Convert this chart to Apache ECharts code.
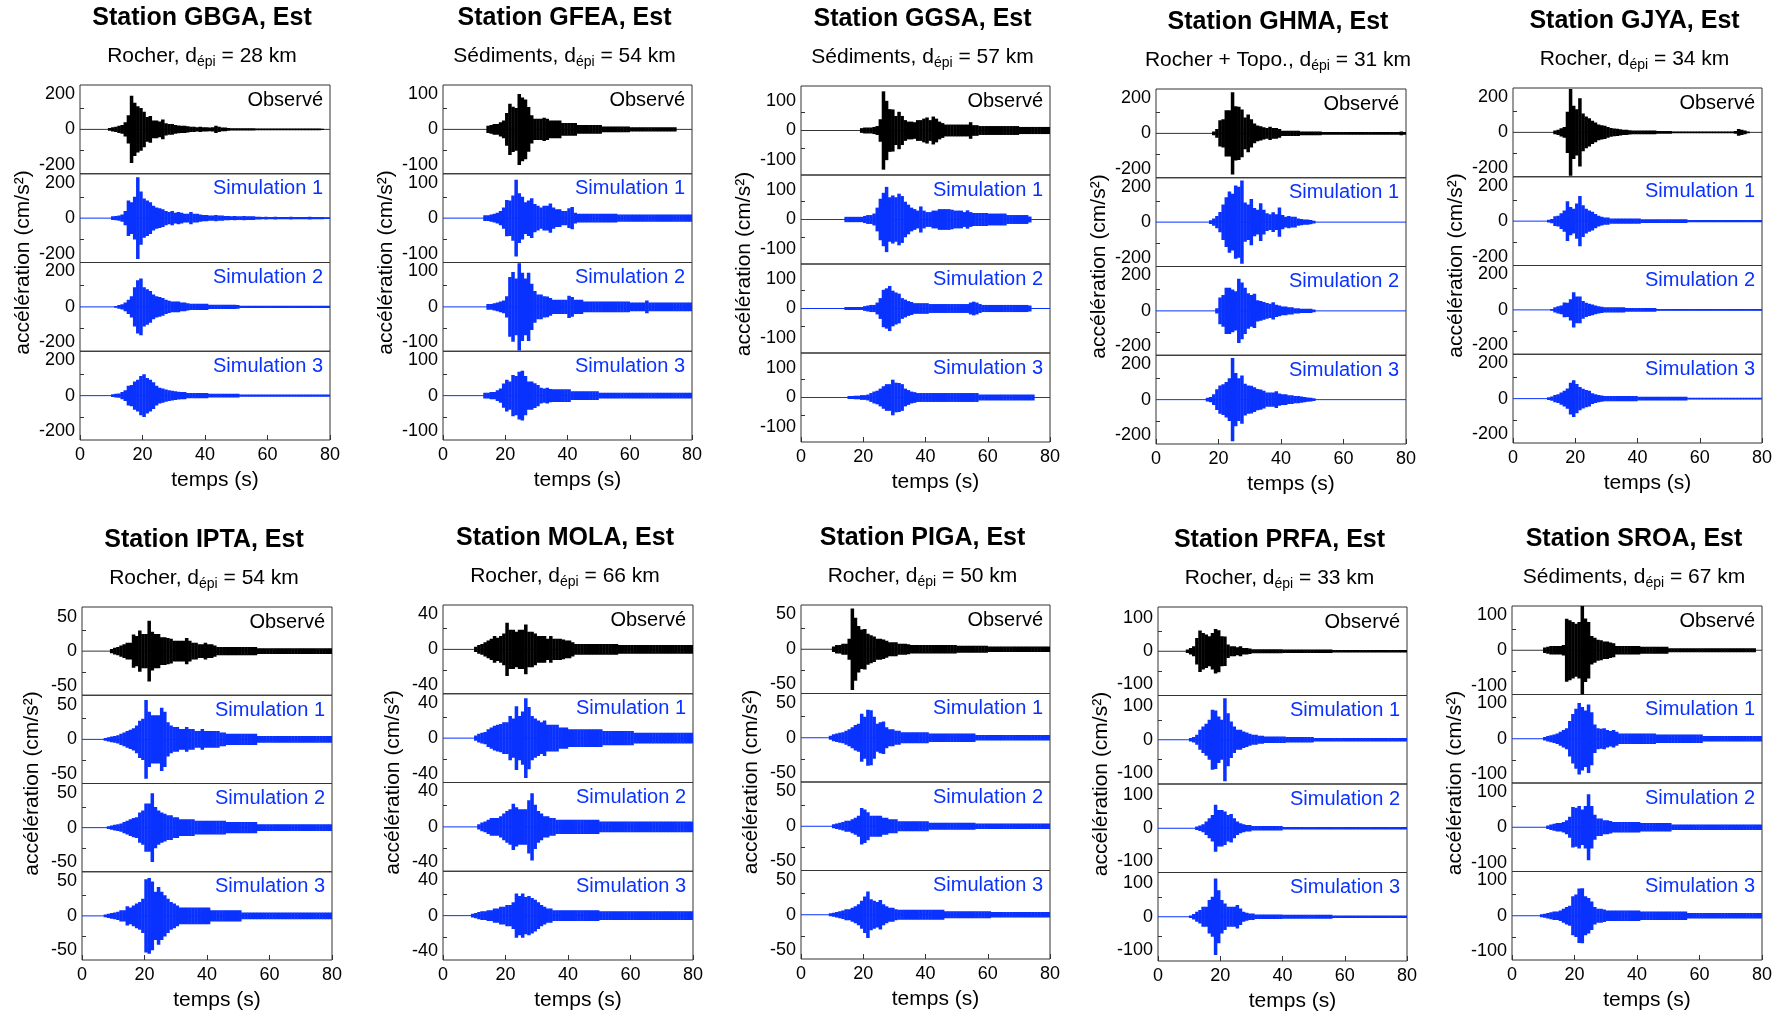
<!DOCTYPE html>
<html>
<head>
<meta charset="utf-8">
<script src="https://cdn.jsdelivr.net/npm/echarts@6/dist/echarts.min.js"></script>
<style>html,body{margin:0;padding:0;background:#fff;}#c{width:1787px;height:1016px;}</style>
</head>
<body>
<div id="c"></div>
<script>
// ---------- DATA ----------
const stations = ['GBGA','GFEA','GGSA','GHMA','GJYA','IPTA','MOLA','PIGA','PRFA','SROA'];
const sites = ['Rocher','Sédiments','Sédiments','Rocher + Topo.','Rocher','Rocher','Rocher','Rocher','Rocher','Sédiments'];
const distances = [28,54,57,31,34,54,66,50,33,67];
const yMax = [250,125,150,250,250,64,50,63,133,125];
const yLabelVal = [200,100,100,200,200,50,40,50,100,100];
const xTicks = [0,20,40,60,80];
const traceNames = ['Observé','Simulation 1','Simulation 2','Simulation 3'];
// envelope amplitude (cm/s²) per second, t = 0..79 s
const GBGA_obs = [0,0,0,0,0,0,0,0,0,8, 12,15,20,25,40,80,190,150,130,120, 100,70,75,50,50,45,55,35,30,30, 25,22,20,20,18,15,15,12,15,12, 12,10,12,20,15,10,10,8,6,6, 6,6,6,6,6,6,5,5,5,5, 5,5,5,5,5,5,5,5,5,5, 5,5,5,5,5,5,5,4,0,0];
const GBGA_s1 = [0,0,0,0,0,0,0,0,0,0, 10,12,15,20,40,100,90,120,230,150, 110,100,90,70,60,55,50,40,35,40, 30,35,30,25,25,35,25,25,20,18, 18,15,15,18,15,15,12,12,10,12, 10,10,12,10,10,10,8,8,6,8, 6,6,8,6,6,6,6,8,6,6, 6,6,6,8,6,6,6,6,5,5];
const GBGA_s2 = [0,0,0,0,0,0,0,0,0,0, 0,5,10,15,25,40,60,110,150,160, 110,100,90,70,60,55,50,40,35,30, 30,30,25,25,20,18,18,18,18,18, 18,12,12,12,12,12,12,12,12,12, 10,6,6,6,6,6,6,6,6,6, 6,6,6,6,6,6,6,6,6,6, 6,6,6,6,6,6,6,6,6,6];
const GBGA_s3 = [0,0,0,0,0,0,0,0,0,0, 8,10,12,20,30,55,60,80,90,110, 120,100,90,75,55,45,40,35,30,28, 25,22,20,20,15,15,15,15,15,15, 15,10,10,10,10,10,10,10,10,10, 10,6,6,6,6,6,6,6,6,6, 6,6,6,6,6,6,6,6,6,6, 6,6,6,6,6,6,6,6,6,6];
const GFEA_obs = [0,0,0,0,0,0,0,0,0,0, 0,0,0,0,10,12,15,15,20,25, 46,72,64,60,100,90,84,63,40,30, 30,30,33,30,25,25,25,25,18,18, 18,18,18,12,12,12,12,12,12,12, 12,8,8,8,8,8,8,8,8,8, 6,6,6,6,6,6,6,6,6,6, 6,6,6,6,6,0,0,0,0,0];
const GFEA_s1 = [0,0,0,0,0,0,0,0,0,0, 0,0,0,8,8,10,12,15,20,30, 51,50,64,108,70,60,45,50,56,40, 35,30,35,35,41,30,25,25,20,20, 28,31,15,12,12,12,12,12,12,12, 12,12,12,12,12,12,10,10,10,10, 10,10,10,10,10,10,10,10,10,10, 10,10,10,10,10,10,10,10,10,10];
const GFEA_s2 = [0,0,0,0,0,0,0,0,0,0, 0,0,0,0,8,8,10,12,15,18, 30,84,98,80,123,96,80,96,65,45, 35,35,30,29,25,20,20,20,20,20, 31,28,20,20,20,15,15,15,15,15, 15,15,15,15,15,15,15,15,15,15, 12,12,12,12,12,18,12,12,12,12, 12,12,12,12,12,12,12,12,12,12];
const GFEA_s3 = [0,0,0,0,0,0,0,0,0,0, 0,0,0,8,8,10,10,15,20,34, 45,40,58,55,67,70,55,40,40,35, 30,22,20,22,19,18,18,18,18,18, 18,12,12,12,12,12,12,12,12,12, 8,8,8,8,8,8,8,8,8,8, 8,8,8,8,8,8,8,8,8,8, 8,8,8,8,8,8,8,8,8,8];
const GGSA_obs = [0,0,0,0,0,0,0,0,0,0, 0,0,0,0,0,0,0,0,0,8, 10,10,10,12,15,38,132,100,72,71, 49,63,49,35,30,30,28,35,35,40, 44,35,47,40,30,25,20,20,20,20, 20,20,20,20,28,18,18,15,15,15, 15,15,15,15,15,15,15,15,15,15, 12,12,12,12,12,12,12,12,12,12];
const GGSA_s1 = [0,0,0,0,0,0,0,0,0,0, 0,0,0,0,9,9,9,9,9,9, 12,15,15,20,40,70,90,110,75,81, 75,87,79,60,50,40,35,30,44,30, 25,25,30,30,35,35,35,35,33,30, 30,30,25,31,25,22,22,22,22,22, 20,20,20,20,20,20,15,15,15,15, 15,15,15,10,0,0,0,0,0,0];
const GGSA_s2 = [0,0,0,0,0,0,0,0,0,0, 0,0,0,0,5,5,5,5,5,5, 8,10,12,12,20,35,63,68,76,60, 54,50,35,30,25,22,18,18,18,18, 18,15,15,15,15,15,15,15,15,15, 15,15,15,15,20,23,20,15,12,12, 12,12,12,12,12,12,12,12,12,12, 12,12,12,10,0,0,0,0,0,0];
const GGSA_s3 = [0,0,0,0,0,0,0,0,0,0, 0,0,0,0,0,5,5,6,6,8, 8,10,15,20,23,30,38,45,45,60, 50,49,45,30,25,20,18,15,15,15, 15,15,15,15,15,15,15,15,15,15, 15,15,15,15,15,15,15,10,10,10, 10,10,10,10,10,10,10,10,10,10, 10,10,10,10,10,0,0,0,0,0];
const GHMA_obs = [0,0,0,0,0,0,0,0,0,0, 0,0,0,0,0,0,0,0,10,25, 74,80,130,130,232,153,150,134,90,106, 80,55,45,40,35,30,38,30,30,25, 15,15,15,15,15,15,10,10,10,10, 10,10,10,8,8,8,8,8,8,8, 8,8,8,8,8,8,8,8,8,8, 8,8,8,8,8,8,8,8,10,8];
const GHMA_s1 = [0,0,0,0,0,0,0,0,0,0, 0,0,0,0,0,0,0,10,20,35, 57,100,140,172,160,206,200,234,110,100, 130,80,70,106,70,50,45,55,45,83, 40,30,35,30,30,20,18,15,15,12, 8,0,0,0,0,0,0,0,0,0, 0,0,0,0,0,0,0,0,0,0, 0,0,0,0,0,0,0,0,0,0];
const GHMA_s2 = [0,0,0,0,0,0,0,0,0,0, 0,0,0,0,0,0,0,0,0,15, 75,90,130,130,120,110,181,160,130,100, 90,96,60,55,50,45,40,49,35,30, 25,25,20,20,15,15,12,12,12,12, 8,0,0,0,0,0,0,0,0,0, 0,0,0,0,0,0,0,0,0,0, 0,0,0,0,0,0,0,0,0,0];
const GHMA_s3 = [0,0,0,0,0,0,0,0,0,0, 0,0,0,0,0,0,10,15,30,59, 80,87,100,120,234,150,120,136,90,80, 78,70,60,57,50,40,40,40,47,35, 30,30,25,25,20,20,18,15,12,10, 8,0,0,0,0,0,0,0,0,0, 0,0,0,0,0,0,0,0,0,0, 0,0,0,0,0,0,0,0,0,0];
const GJYA_obs = [0,0,0,0,0,0,0,0,0,0, 0,0,0,10,15,23,30,116,245,150, 130,192,106,90,80,65,55,45,40,38, 30,25,22,20,18,15,15,12,10,10, 10,10,10,10,10,10,8,8,8,8, 8,5,5,5,5,5,5,5,5,5, 5,5,5,5,5,5,5,5,5,5, 5,8,19,15,10,5,0,0,0,0];
const GJYA_s1 = [0,0,0,0,0,0,0,0,0,0, 0,8,12,28,30,45,60,112,80,70, 99,142,90,70,60,53,40,30,25,20, 20,15,15,15,15,15,15,15,15,15, 15,10,10,10,10,10,10,10,10,10, 10,10,10,10,10,10,6,6,6,6, 6,6,6,6,6,6,6,6,6,6, 6,6,6,6,6,6,6,6,6,6];
const GJYA_s2 = [0,0,0,0,0,0,0,0,0,0, 0,0,5,15,20,25,42,40,60,99, 76,76,50,40,35,30,25,20,18,15, 15,15,15,15,15,15,10,10,10,10, 10,10,10,10,10,10,5,5,5,5, 5,5,5,5,5,5,5,5,5,5, 5,5,5,5,5,5,5,5,5,5, 5,5,5,5,5,5,5,5,5,5];
const GJYA_s3 = [0,0,0,0,0,0,0,0,0,0, 0,8,12,20,25,35,45,57,90,103, 82,65,55,48,45,30,25,20,18,15, 15,15,15,15,15,15,15,15,15,15, 10,10,10,10,10,10,10,10,10,10, 10,10,10,10,10,10,5,5,5,5, 5,5,5,5,5,5,5,5,5,5, 5,5,5,5,5,5,5,5,5,5];
const IPTA_obs = [0,0,0,0,0,0,0,0,0,3, 5,6,8,10,12,12,24,22,30,25, 25,44,28,25,25,20,20,19,18,15, 15,15,15,19,15,12,12,10,10,12, 10,10,8,6,6,6,6,6,6,6, 6,6,6,6,6,6,4,4,4,4, 4,4,4,4,4,4,4,4,4,4, 4,4,4,4,4,4,4,4,4,4];
const IPTA_s1 = [0,0,0,0,0,0,0,2,3,4, 5,6,8,10,12,14,16,20,27,30, 57,40,35,35,35,46,40,25,20,18, 18,15,15,18,15,15,12,12,15,12, 12,12,12,12,10,10,8,8,8,8, 8,8,8,8,8,8,5,5,5,5, 5,5,5,5,5,5,5,5,5,5, 5,5,5,5,5,5,5,5,5,5];
const IPTA_s2 = [0,0,0,0,0,0,0,0,2,3, 4,5,6,8,10,12,14,15,22,25, 35,35,50,30,25,22,20,18,18,15, 15,12,12,12,12,12,10,10,10,10, 10,10,10,10,10,10,8,8,8,8, 8,8,8,8,8,8,5,5,5,5, 5,5,5,5,5,5,5,5,5,5, 5,5,5,5,5,5,5,5,5,5];
const IPTA_s3 = [0,0,0,0,0,0,0,2,3,4, 5,6,8,8,14,12,15,18,20,25, 53,55,50,35,42,35,30,25,20,18, 15,12,12,12,12,12,12,12,12,12, 12,8,8,8,8,8,8,8,8,8, 8,5,5,5,5,5,5,5,5,5, 5,5,5,5,5,5,5,5,5,5, 5,5,5,5,5,5,5,5,5,5];
const MOLA_obs = [0,0,0,0,0,0,0,0,0,0, 3,5,6,8,10,12,15,13,15,18, 30,22,22,20,22,22,28,20,20,18, 15,15,15,12,15,12,12,12,11,10, 10,8,6,6,6,6,6,6,6,6, 6,6,6,6,6,6,5,5,5,5, 5,5,5,5,5,5,5,5,5,5, 5,5,5,5,5,5,5,5,5,5];
const MOLA_s1 = [0,0,0,0,0,0,0,0,0,0, 3,5,6,7,10,12,14,15,16,18, 18,25,22,36,25,30,45,35,25,22, 20,18,20,15,15,15,15,12,12,12, 10,10,10,10,10,10,10,10,10,10, 10,8,8,8,8,8,8,8,8,8, 8,6,6,6,6,6,6,6,6,6, 6,6,6,6,6,6,6,6,6,6];
const MOLA_s2 = [0,0,0,0,0,0,0,0,0,0, 0,3,5,6,8,10,10,10,12,15, 18,20,26,22,20,20,20,30,38,25, 18,15,12,12,10,10,8,8,8,8, 8,8,8,8,8,8,8,8,8,8, 6,6,6,6,6,6,6,6,6,6, 6,6,6,6,6,6,6,6,6,6, 6,6,6,6,6,6,6,6,6,6];
const MOLA_s3 = [0,0,0,0,0,0,0,0,0,2, 3,4,5,5,6,6,8,8,10,10, 12,12,15,25,22,25,21,22,20,18, 15,12,10,8,8,6,6,6,6,6, 6,6,6,6,6,6,6,6,6,6, 5,5,5,5,5,5,5,5,5,5, 5,5,5,5,5,5,5,5,5,5, 5,5,5,5,5,5,5,5,5,5];
const PIGA_obs = [0,0,0,0,0,0,0,0,0,0, 4,6,6,8,8,15,58,45,33,28, 29,22,20,18,15,15,14,12,10,10, 10,8,8,8,7,6,6,6,6,6, 6,6,6,6,6,6,6,6,6,6, 5,5,5,5,5,5,5,5,5,5, 4,4,4,4,4,4,4,4,4,4, 4,4,4,4,4,4,4,4,4,4];
const PIGA_s1 = [0,0,0,0,0,0,0,0,0,3, 5,6,7,8,10,12,15,18,20,34, 30,40,39,30,20,22,23,15,12,12, 10,10,8,8,8,8,8,8,8,8, 8,6,6,6,6,6,6,6,6,6, 6,6,6,6,6,6,4,4,4,4, 4,4,4,4,4,4,4,4,4,4, 4,4,4,4,4,4,4,4,4,4];
const PIGA_s2 = [0,0,0,0,0,0,0,0,0,0, 3,4,5,6,8,8,10,12,15,26, 24,20,15,15,15,15,12,12,10,10, 10,7,7,7,7,7,7,7,7,7, 7,5,5,5,5,5,5,5,5,5, 5,5,5,5,5,5,4,4,4,4, 4,4,4,4,4,4,4,4,4,4, 4,4,4,4,4,4,4,4,4,4];
const PIGA_s3 = [0,0,0,0,0,0,0,0,0,2, 3,4,5,6,8,8,10,12,15,20, 26,33,22,20,18,21,15,12,10,10, 8,7,7,7,7,7,7,7,7,7, 7,7,7,7,7,7,5,5,5,5, 5,5,5,5,5,5,5,5,5,5, 5,4,4,4,4,4,4,4,4,4, 4,4,4,4,4,4,4,4,4,4];
const PRFA_obs = [0,0,0,0,0,0,0,0,0,5, 10,15,40,62,55,50,45,55,67,63, 45,44,20,15,15,12,15,10,10,8, 6,6,6,6,6,6,6,6,6,6, 5,5,5,5,5,5,5,5,5,5, 5,5,5,5,5,5,4,4,4,4, 4,4,4,4,4,4,4,4,4,4, 4,4,4,4,4,4,4,4,4,4];
const PRFA_s1 = [0,0,0,0,0,0,0,0,0,0, 5,8,15,30,40,48,60,90,88,70, 60,125,80,55,40,30,30,25,22,18, 15,15,12,12,10,10,10,10,10,10, 10,8,8,8,8,8,8,8,8,8, 5,5,5,5,5,5,5,5,5,5, 5,5,5,5,5,5,5,5,5,5, 5,5,5,5,5,5,5,5,5,5];
const PRFA_s2 = [0,0,0,0,0,0,0,0,0,0, 0,0,5,8,12,20,30,40,71,55, 55,50,40,43,30,20,15,12,10,10, 7,7,7,7,7,7,7,7,7,7, 4,4,4,4,4,4,4,4,4,4, 4,4,4,4,4,4,4,4,4,4, 4,4,4,4,4,4,4,4,4,4, 4,4,4,4,4,4,4,4,4,4];
const PRFA_s3 = [0,0,0,0,0,0,0,0,0,0, 4,8,15,20,30,30,50,60,115,80, 50,40,30,30,30,35,25,15,12,10, 10,7,7,7,7,7,7,7,7,7, 6,6,6,6,6,6,6,6,6,6, 6,6,6,6,6,6,4,4,4,4, 4,4,4,4,4,4,4,4,4,4, 4,4,4,4,4,4,4,4,4,4];
const SROA_obs = [0,0,0,0,0,0,0,0,0,0, 8,10,12,12,12,12,15,89,85,80, 75,80,125,90,80,40,35,30,28,25, 25,22,20,12,12,12,12,12,12,12, 12,10,10,10,10,10,10,10,10,10, 6,6,6,6,6,6,6,6,6,6, 6,6,6,6,6,6,6,6,6,6, 6,6,6,6,6,6,6,6,0,0];
const SROA_s1 = [0,0,0,0,0,0,0,0,0,0, 5,8,10,12,15,20,25,30,50,70, 85,101,90,80,97,75,40,30,28,30, 25,22,25,20,15,15,15,15,15,15, 15,15,15,15,15,15,12,12,12,12, 12,12,12,12,12,12,12,12,12,12, 12,8,8,8,8,8,8,8,8,8, 8,8,8,8,8,8,8,8,8,8];
const SROA_s2 = [0,0,0,0,0,0,0,0,0,0, 0,5,8,10,12,12,15,20,30,57, 55,60,50,60,93,60,35,25,25,20, 20,18,15,15,15,15,15,15,15,15, 15,12,12,12,12,12,12,12,12,12, 12,8,8,8,8,8,8,8,8,8, 8,8,8,8,8,8,8,8,8,8, 8,8,8,8,8,8,8,8,8,8];
const SROA_s3 = [0,0,0,0,0,0,0,0,0,4, 6,8,10,12,12,15,20,25,28,55, 60,77,78,55,50,40,25,20,20,18, 15,15,15,15,15,15,15,15,15,15, 15,12,12,12,12,12,12,12,12,12, 12,12,12,12,12,12,8,8,8,8, 8,8,8,8,8,8,8,8,8,8, 8,8,8,8,8,8,8,8,8,8];

const traces = [
  [GBGA_obs,GBGA_s1,GBGA_s2,GBGA_s3],[GFEA_obs,GFEA_s1,GFEA_s2,GFEA_s3],
  [GGSA_obs,GGSA_s1,GGSA_s2,GGSA_s3],[GHMA_obs,GHMA_s1,GHMA_s2,GHMA_s3],
  [GJYA_obs,GJYA_s1,GJYA_s2,GJYA_s3],[IPTA_obs,IPTA_s1,IPTA_s2,IPTA_s3],
  [MOLA_obs,MOLA_s1,MOLA_s2,MOLA_s3],[PIGA_obs,PIGA_s1,PIGA_s2,PIGA_s3],
  [PRFA_obs,PRFA_s1,PRFA_s2,PRFA_s3],[SROA_obs,SROA_s1,SROA_s2,SROA_s3]
];

// ---------- LAYOUT ----------
const FONT = "'Liberation Sans', Arial, sans-serif";
const BLUE = '#0a32ff';
const BOX = [
  [80,85,250,355],[443,85,249,355],[801,86,249,356],[1156,89,250,355],[1513,88,249,355],
  [82,607,250,353],[443,605,250,355],[801,605,249,354],[1158,607,249,354],[1512,606,250,354]
];

const grid = [], xAxis = [], yAxis = [], series = [], graphic = [];

function renderEnv(color) {
  return function (params, api) {
    const t = api.value(0), a = api.value(1);
    if (!a) return null;
    const p1 = api.coord([t, a]);
    const p2 = api.coord([t + 1, -a]);
    return {
      type: 'rect',
      shape: { x: p1[0] - 0.2, y: p1[1], width: p2[0] - p1[0] + 0.4, height: p2[1] - p1[1] },
      style: { fill: color }
    };
  };
}

for (let p = 0; p < 10; p++) {
  const [L, T, W, H] = BOX[p];
  const h = H / 4;
  const M = yMax[p], LV = yLabelVal[p];
  for (let k = 0; k < 4; k++) {
    const gi = p * 4 + k;
    const color = k === 0 ? '#000' : BLUE;
    grid.push({ left: L, top: T + k * h, width: W, height: h, show: true,
      borderColor: '#333', borderWidth: 1, backgroundColor: 'transparent' });
    xAxis.push({ gridIndex: gi, type: 'value', min: 0, max: 80, interval: 20, position: 'bottom',
      axisLine: { show: false, onZero: false }, splitLine: { show: false },
      axisTick: { show: k === 3, inside: true, length: 5, lineStyle: { color: '#333' } },
      axisLabel: { show: k === 3, margin: 6, fontSize: 18, color: '#000', fontFamily: FONT,
        customValues: xTicks } });
    yAxis.push({ gridIndex: gi, type: 'value', min: -M, max: M,
      axisLine: { show: false, onZero: false }, splitLine: { show: false },
      axisTick: { show: true, inside: true, length: 4, lineStyle: { color: '#333' },
        customValues: [-Math.round(LV * 0.6), Math.round(LV * 0.6)] },
      axisLabel: { show: true, margin: 5, fontSize: 18, color: '#000', fontFamily: FONT,
        customValues: [-LV, 0, LV] } });
    series.push({ type: 'line', xAxisIndex: gi, yAxisIndex: gi, data: [[0, 0], [80, 0]],
      showSymbol: false, silent: true, animation: false,
      lineStyle: { width: 1, color: k === 0 ? '#333' : BLUE }, z: 2 });
    series.push({ type: 'custom', xAxisIndex: gi, yAxisIndex: gi, clip: true, animation: false,
      data: traces[p][k].map((a, i) => [i, a]),
      renderItem: renderEnv(color), z: 3 });
    graphic.push({ type: 'text', x: L + W - 7, y: T + k * h + 15, z: 10,
      style: { text: traceNames[k], fill: k === 0 ? '#000' : BLUE, fontSize: 20,
        fontFamily: FONT, align: 'right', verticalAlign: 'middle' } });
  }
  const cx = L + W / 2;
  graphic.push({ type: 'text', x: cx - 3, y: T - 67,
    style: { text: 'Station ' + stations[p] + ', Est', fill: '#000', fontSize: 25,
      fontWeight: 'bold', fontFamily: FONT, align: 'center', verticalAlign: 'middle' } });
  graphic.push({ type: 'text', x: cx - 3, y: T - 29,
    style: { text: sites[p] + ', d{s|épi} = ' + distances[p] + ' km', fill: '#000', fontSize: 21,
      fontFamily: FONT, align: 'center', verticalAlign: 'middle', lineHeight: 26,
      rich: { s: { fontSize: 14, fontFamily: FONT, fill: '#000', lineHeight: 16, verticalAlign: 'bottom' } } } });
  const lblLen = String(-LV).length;
  graphic.push({ type: 'text', x: L - (lblLen >= 4 ? 57 : 50), y: T + H / 2, rotation: Math.PI / 2,
    style: { text: 'accélération (cm/s²)', fill: '#000', fontSize: 21, fontFamily: FONT,
      align: 'center', verticalAlign: 'middle' } });
  graphic.push({ type: 'text', x: cx + 10, y: T + H + 40,
    style: { text: 'temps (s)', fill: '#000', fontSize: 21, fontFamily: FONT,
      align: 'center', verticalAlign: 'middle' } });
}

const chart = echarts.init(document.getElementById('c'), null, { renderer: 'canvas' });
chart.setOption({ animation: false, backgroundColor: '#fff', grid, xAxis, yAxis, series, graphic });
</script>
</body>
</html>
